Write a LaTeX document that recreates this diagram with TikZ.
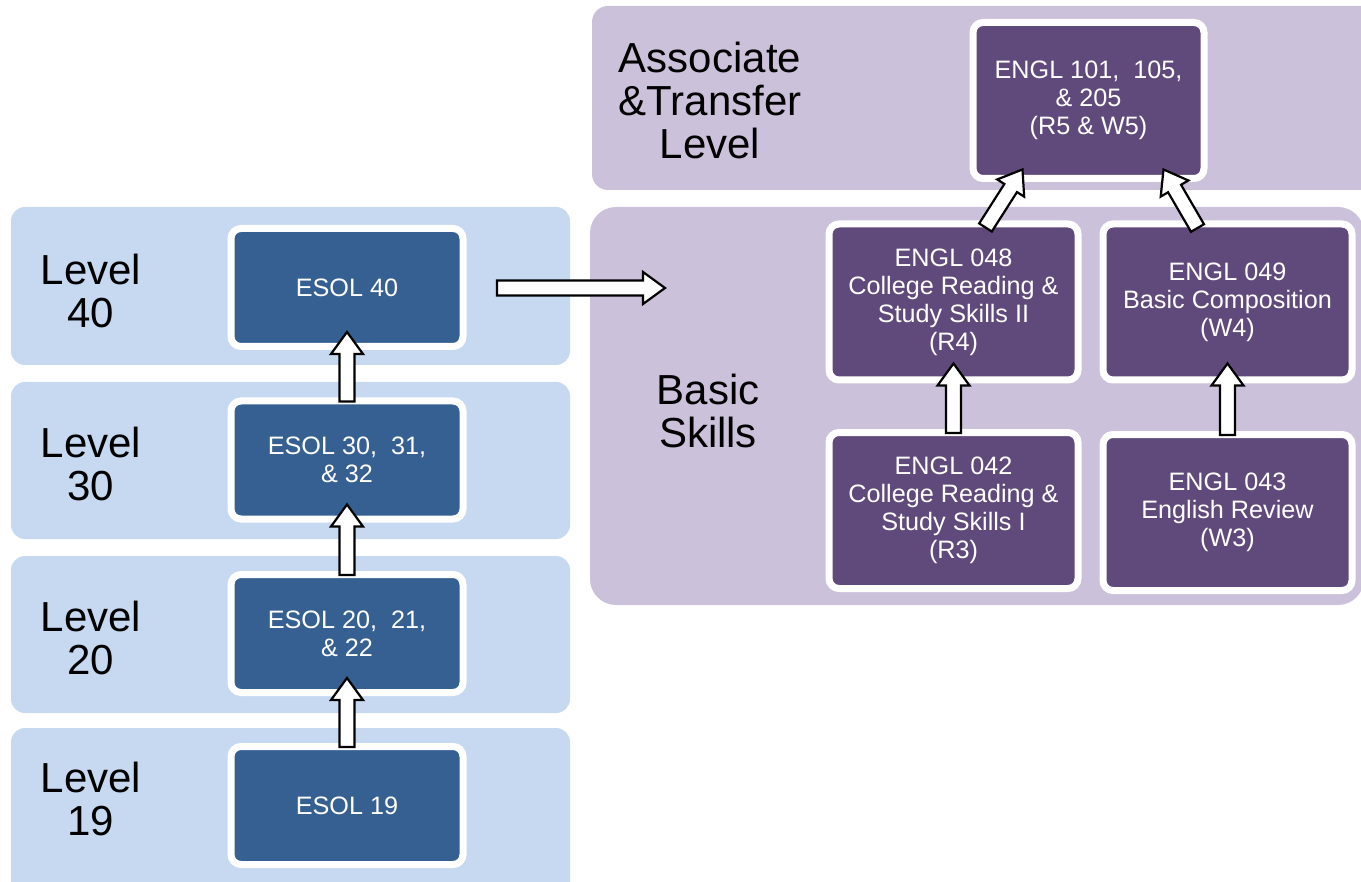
\documentclass[tikz,border=0pt]{standalone}
\usepackage{fontspec}
\setmainfont{Liberation Sans}
\usetikzlibrary{calc}
\definecolor{bandblue}{HTML}{C6D9F1}
\definecolor{esolblue}{HTML}{366092}
\definecolor{bandpurple}{HTML}{CCC1DA}
\definecolor{englpurple}{HTML}{604A7B}
\tikzset{
	course/.style={draw=white, line width=3.5pt, rounded corners=5pt, text=white, align=center, inner sep=0pt, font=\fontsize{12.6}{14}\selectfont},
	esol/.style={course, fill=esolblue, minimum width=116pt, minimum height=59pt},
	engl/.style={course, fill=englpurple, minimum width=124.5pt, minimum height=78pt},
	levellabel/.style={align=center, font=\fontsize{21}{21.5}\selectfont},
	blockarrow/.style={draw=black, fill=white, line width=1.1pt, line join=miter}
}
\def\bigarrow(#1)(#2){%
	\path (#2) coordinate (tip) ($(#2)!11pt!(#1)$) coordinate (neck);
	\draw[blockarrow] ($(#1)!3.75pt!90:(#2)$) -- ($(neck)!3.75pt!-90:(#1)$) -- ($(neck)!8pt!-90:(#1)$) -- (tip) -- ($(neck)!8pt!90:(#1)$) -- ($(neck)!3.75pt!90:(#1)$) -- ($(#1)!3.75pt!-90:(#2)$) -- cycle;}
\begin{document}
\begin{tikzpicture}[x=0.5pt, y=-0.5pt]
			%%%%% START %%%%%
			\useasboundingbox (0,0) rectangle (1361,882);
			\clip (0,0) rectangle (1361,882);
			
			% bands
			\fill[bandblue, rounded corners=7pt] (11,207) rectangle (570,365);
			\fill[bandblue, rounded corners=7pt] (11,382) rectangle (570,539);
			\fill[bandblue, rounded corners=7pt] (11,556) rectangle (570,713);
			\fill[bandblue, rounded corners=7pt] (11,728) rectangle (570,900);
			\fill[bandpurple, rounded corners=8pt] (592,6) rectangle (1380,190);
			\fill[bandpurple, rounded corners=13pt] (590,207) rectangle (1364,605);
			
			\node[levellabel] (l40) at (91,291) {Level\\40};
			\node[levellabel] (l30) at (91,464) {Level\\30};
			\node[levellabel] (l20) at (91,638) {Level\\20};
			\node[levellabel] (l19) at (91,799) {Level\\19};
			\node[levellabel] (trans) at (710,100) {Associate\\\&Transfer\\Level};
			\node[levellabel] (basic) at (708,411) {Basic\\Skills};
			
			% ESOL
			\node[esol] (e40) at (347,287.5) {ESOL 40};
			\node[esol] (e30) at (347,460) {ESOL 30,\ \ 31,\\\& 32};
			\node[esol] (e20) at (347,633.5) {ESOL 20,\ \ 21,\\\& 22};
			\node[esol] (e19) at (347,805.5) {ESOL 19};
			
			% ENGL
			\node[engl, minimum width=115.5pt] (e101) at (1088.5,100.5) {ENGL 101,\ \ 105,\\\& 205\\(R5 \& W5)};
			\node[engl] (e048) at (953.5,302) {ENGL 048\\College Reading \&\\Study Skills II\\(R4)};
			\node[engl] (e049) at (1227.5,302) {ENGL 049\\Basic Composition\\(W4)};
			\node[engl] (e042) at (953.5,510.5) {ENGL 042\\College Reading \&\\Study Skills I\\(R3)};
			\node[engl] (e043) at (1227.5,512.5) {ENGL 043\\English Review\\(W3)};
			
			% arrows
			\bigarrow([yshift=-2pt]e30.north)([yshift=9pt]e40.south)
			\bigarrow([yshift=-2pt]e20.north)([yshift=9pt]e30.south)
			\bigarrow([yshift=-2pt]e19.north)([yshift=9pt]e20.south)
			\coordinate (hstart) at (497,288);
			\coordinate (hend) at (665,288);
			\bigarrow(hstart)(hend)
			\bigarrow([yshift=-2pt]e042.north)([yshift=10pt]e048.south)
			\bigarrow([yshift=-2pt]e043.north)([yshift=10pt]e049.south)
			\bigarrow([xshift=16pt,yshift=-3.5pt]e048.north)([xshift=-33pt,yshift=6.25pt]e101.south)
			\bigarrow([xshift=-15pt,yshift=-3.75pt]e049.north)([xshift=37.5pt,yshift=6.25pt]e101.south)
			
			%%%%% END %%%%%
		\end{tikzpicture}
\end{document}
